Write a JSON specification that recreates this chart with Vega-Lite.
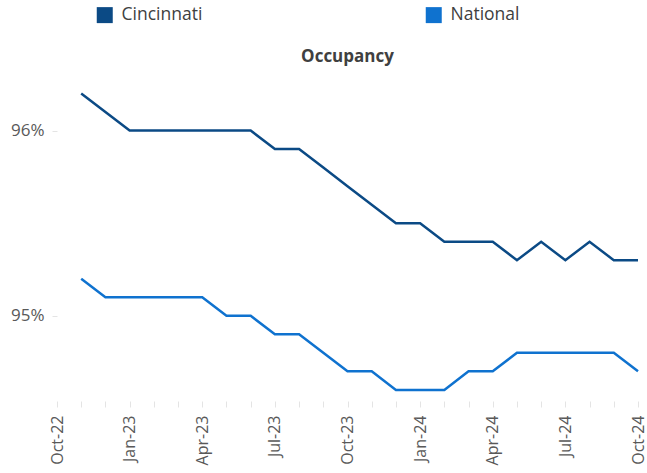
{
  "$schema": "https://vega.github.io/schema/vega-lite/v6.json",
  "autosize": {"type": "none"},
  "width": 581,
  "height": 326,
  "padding": {"left": 57, "top": 75, "right": 9, "bottom": 72},
  "background": "white",
  "title": {"text": "Occupancy", "fontSize": 17, "font": "Open Sans", "fontWeight": "bold", "color": "#404040", "anchor": "middle", "offset": 6, "dy": 66},
  "config": {"view": {"stroke": null}, "font": "Open Sans"},
  "data": {"values": [
    {"month": "Nov-22", "series": "Cincinnati", "value": 96.2},
    {"month": "Dec-22", "series": "Cincinnati", "value": 96.1},
    {"month": "Jan-23", "series": "Cincinnati", "value": 96.0},
    {"month": "Feb-23", "series": "Cincinnati", "value": 96.0},
    {"month": "Mar-23", "series": "Cincinnati", "value": 96.0},
    {"month": "Apr-23", "series": "Cincinnati", "value": 96.0},
    {"month": "May-23", "series": "Cincinnati", "value": 96.0},
    {"month": "Jun-23", "series": "Cincinnati", "value": 96.0},
    {"month": "Jul-23", "series": "Cincinnati", "value": 95.9},
    {"month": "Aug-23", "series": "Cincinnati", "value": 95.9},
    {"month": "Sep-23", "series": "Cincinnati", "value": 95.8},
    {"month": "Oct-23", "series": "Cincinnati", "value": 95.7},
    {"month": "Nov-23", "series": "Cincinnati", "value": 95.6},
    {"month": "Dec-23", "series": "Cincinnati", "value": 95.5},
    {"month": "Jan-24", "series": "Cincinnati", "value": 95.5},
    {"month": "Feb-24", "series": "Cincinnati", "value": 95.4},
    {"month": "Mar-24", "series": "Cincinnati", "value": 95.4},
    {"month": "Apr-24", "series": "Cincinnati", "value": 95.4},
    {"month": "May-24", "series": "Cincinnati", "value": 95.3},
    {"month": "Jun-24", "series": "Cincinnati", "value": 95.4},
    {"month": "Jul-24", "series": "Cincinnati", "value": 95.3},
    {"month": "Aug-24", "series": "Cincinnati", "value": 95.4},
    {"month": "Sep-24", "series": "Cincinnati", "value": 95.3},
    {"month": "Oct-24", "series": "Cincinnati", "value": 95.3},
    {"month": "Nov-22", "series": "National", "value": 95.2},
    {"month": "Dec-22", "series": "National", "value": 95.1},
    {"month": "Jan-23", "series": "National", "value": 95.1},
    {"month": "Feb-23", "series": "National", "value": 95.1},
    {"month": "Mar-23", "series": "National", "value": 95.1},
    {"month": "Apr-23", "series": "National", "value": 95.1},
    {"month": "May-23", "series": "National", "value": 95.0},
    {"month": "Jun-23", "series": "National", "value": 95.0},
    {"month": "Jul-23", "series": "National", "value": 94.9},
    {"month": "Aug-23", "series": "National", "value": 94.9},
    {"month": "Sep-23", "series": "National", "value": 94.8},
    {"month": "Oct-23", "series": "National", "value": 94.7},
    {"month": "Nov-23", "series": "National", "value": 94.7},
    {"month": "Dec-23", "series": "National", "value": 94.6},
    {"month": "Jan-24", "series": "National", "value": 94.6},
    {"month": "Feb-24", "series": "National", "value": 94.6},
    {"month": "Mar-24", "series": "National", "value": 94.7},
    {"month": "Apr-24", "series": "National", "value": 94.7},
    {"month": "May-24", "series": "National", "value": 94.8},
    {"month": "Jun-24", "series": "National", "value": 94.8},
    {"month": "Jul-24", "series": "National", "value": 94.8},
    {"month": "Aug-24", "series": "National", "value": 94.8},
    {"month": "Sep-24", "series": "National", "value": 94.8},
    {"month": "Oct-24", "series": "National", "value": 94.7}
  ]},
  "mark": {"type": "line", "strokeWidth": 2.5, "strokeJoin": "miter"},
  "encoding": {
    "x": {
      "field": "month", "type": "ordinal",
      "scale": {"type": "point", "padding": 0, "domain": ["Oct-22","Nov-22","Dec-22","Jan-23","Feb-23","Mar-23","Apr-23","May-23","Jun-23","Jul-23","Aug-23","Sep-23","Oct-23","Nov-23","Dec-23","Jan-24","Feb-24","Mar-24","Apr-24","May-24","Jun-24","Jul-24","Aug-24","Sep-24","Oct-24"]},
      "axis": {
        "title": null, "domain": false, "grid": false,
        "ticks": true, "tickColor": "#e4e4e4", "tickSize": 6,
        "labelAngle": -90, "labelFontSize": 16, "labelColor": "#595959", "labelPadding": 8,
        "labelOverlap": false,
        "labelExpr": "indexof(['Oct-22','Jan-23','Apr-23','Jul-23','Oct-23','Jan-24','Apr-24','Jul-24','Oct-24'], datum.value) >= 0 ? datum.label : ''"
      }
    },
    "y": {
      "field": "value", "type": "quantitative",
      "scale": {"domain": [94.54, 96.3], "zero": false, "nice": false},
      "axis": {
        "title": null, "domain": false, "grid": false, "values": [95, 96],
        "ticks": true, "tickColor": "#e4e4e4", "tickSize": 5,
        "labelExpr": "datum.value + '%'", "labelFontSize": 17, "labelColor": "#595959", "labelPadding": 8
      }
    },
    "color": {
      "field": "series", "type": "nominal",
      "scale": {"domain": ["Cincinnati", "National"], "range": ["#0B4A85", "#0F72CF"]},
      "legend": {
        "title": null, "orient": "none", "legendX": 39, "legendY": -69,
        "direction": "horizontal", "columns": 2, "columnPadding": 222,
        "symbolType": "square", "symbolSize": 256, "symbolStrokeWidth": 0, "symbolOpacity": 1,
        "labelFontSize": 17.5, "labelColor": "#404040", "labelOffset": 8,
        "encode": {"symbols": {"update": {"fill": {"scale": "color", "field": "value"}, "stroke": {"value": "transparent"}}}}
      }
    }
  }
}
